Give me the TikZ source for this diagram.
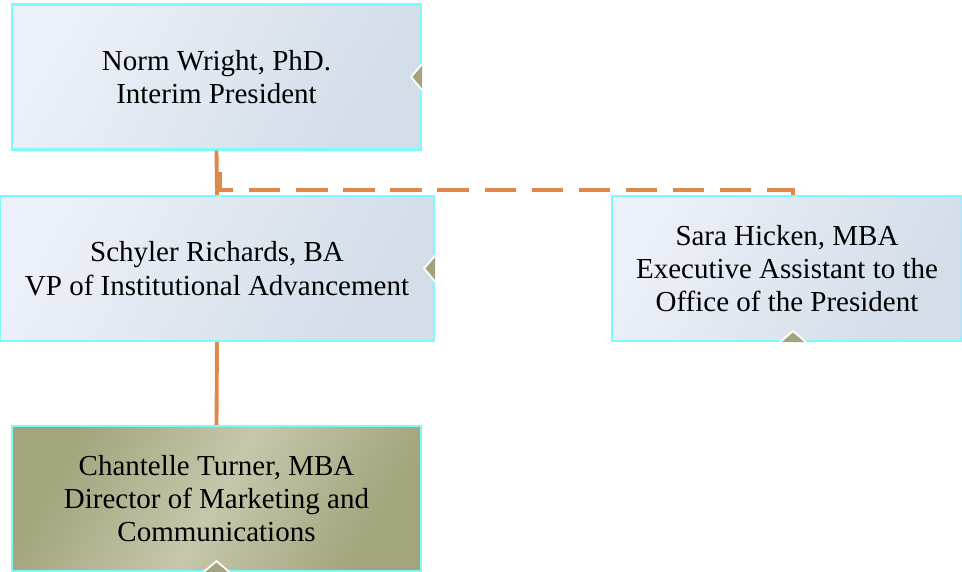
\documentclass[tikz,border=0pt]{standalone}
\usepackage{fontspec}
\setmainfont{Liberation Serif}
\usetikzlibrary{positioning}

\definecolor{boxline}{HTML}{7FFAFA}
\definecolor{boxlight}{HTML}{ECF0F8}
\definecolor{boxdark}{HTML}{D2DDE8}
\definecolor{olivedark}{HTML}{A2A47C}
\definecolor{olivelight}{HTML}{C6C7AB}
\definecolor{notch}{HTML}{A3A47F}
\definecolor{linkline}{HTML}{E0874A}

\begin{document}
\begin{tikzpicture}[x=0.02cm, y=-0.02cm,
    every node/.style={font=\fontsize{16.5}{19}\selectfont, align=center},
    person/.style={rectangle, draw=boxline, line width=1.3pt,
        left color=boxlight, right color=boxdark, shading angle=60,
        minimum height=2.9cm, inner sep=2pt},
    staff/.style={person, left color=olivedark, right color=olivedark,
        middle color=olivelight, shading angle=60},
    link/.style={linkline, line width=2.2pt},
    dashlink/.style={link, dash pattern=on 0.628cm off 0.314cm},
    notchl/.style={fill=notch, draw=white, line width=1pt},
]
    % Frame of the picture
    \useasboundingbox (0,0) rectangle (962,571);

    % Boxes
    \node[person, minimum width=8.18cm] (pres) at (216.5,77)
        {Norm Wright, PhD.\\Interim President};
    \node[person, minimum width=8.68cm] (vp) at (217,268.5)
        {Schyler Richards, BA\\VP of Institutional Advancement};
    \node[person, minimum width=7.0cm] (assist) at (787,268.5)
        {Sara Hicken, MBA\\Executive Assistant to the\\Office of the President};
    \node[staff, minimum width=8.18cm] (mkt) at (216.5,498.5)
        {Chantelle Turner, MBA\\Director of Marketing and\\Communications};

    % Connectors
    \draw[link] (pres.south) -- (vp.north);
    \draw[link] (vp.south) -- (mkt.north);
    \coordinate (jog) at (220,172);
    \coordinate (turn) at (793,190);
    \coordinate (drop) at (793,196);
    \draw[dashlink] (jog) |- (turn) -- (drop);

    % Notches
    \filldraw[notchl] (pres.east) ++(0,-13) -- ++(-11,13) -- ++(11,13);
    \filldraw[notchl] (vp.east) ++(0,-13) -- ++(-11,13) -- ++(11,13);
    \filldraw[notchl] (drop |- assist.south) ++(-13,0) -- ++(13,-11) -- ++(13,11);
    \filldraw[notchl] (mkt.south) ++(-13,0) -- ++(13,-11) -- ++(13,11);
\end{tikzpicture}
\end{document}
